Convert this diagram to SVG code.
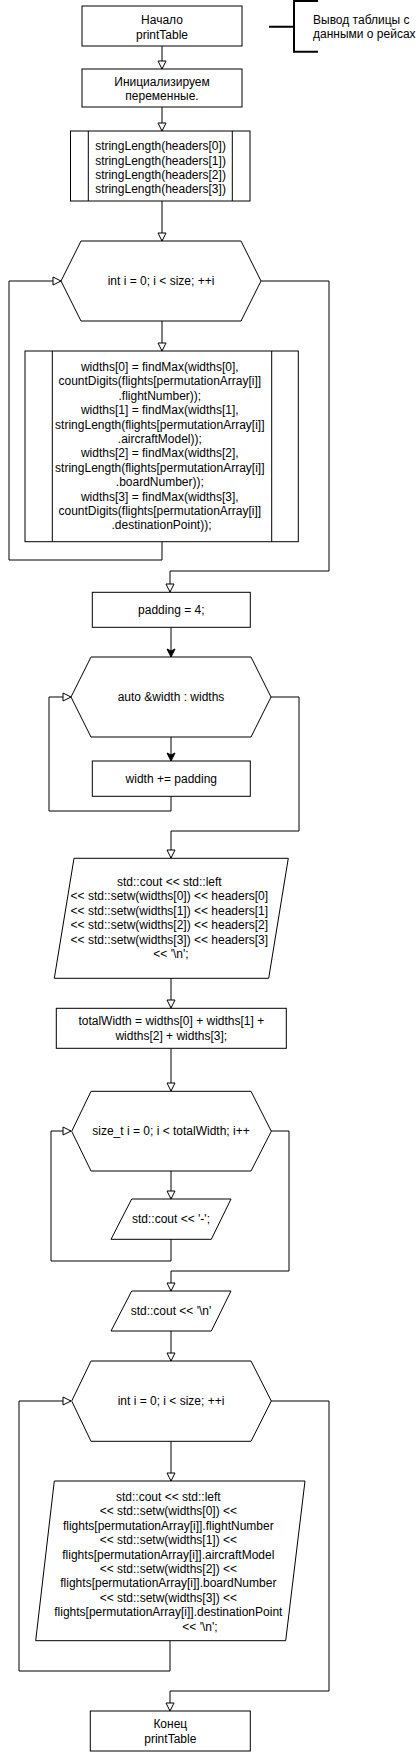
<svg xmlns="http://www.w3.org/2000/svg" width="420" height="1752" viewBox="0 0 420 1752">
<style>
.s{fill:#fff;stroke:#000;stroke-width:1}
.l{fill:none;stroke:#000;stroke-width:1}
.t{font-family:"Liberation Sans",Arial,sans-serif;font-size:12px;fill:#000;text-anchor:middle}
.a{font-family:"Liberation Sans",Arial,sans-serif;font-size:12px;fill:#000;text-anchor:start}
.c{fill:none;stroke:#000;stroke-width:1}
.o{marker-end:url(#open)}
.f{marker-end:url(#fill)}
</style>
<defs>
<marker id="open" markerUnits="userSpaceOnUse" markerWidth="12" markerHeight="12" viewBox="-1 -1 12 12" refX="8" refY="4" orient="auto"><path d="M0,0 L8,4 L0,8 Z" fill="#fff" stroke="#000" stroke-width="1"/></marker>
<marker id="fill" markerUnits="userSpaceOnUse" markerWidth="12" markerHeight="12" viewBox="-1 -1 12 12" refX="8" refY="4" orient="auto"><path d="M0,0 L8,4 L0,8 L2,4 Z" fill="#000" stroke="#000" stroke-width="1"/></marker>
</defs>
<g id="connectors">
<path class="c o" d="M162,46 V69"/>
<path class="c o" d="M162,107 V131"/>
<path class="c o" d="M162,201 V241"/>
<path class="c o" d="M162,321 V351"/>
<path class="c o" d="M162,542 V560 H9 V281 H61"/>
<path class="c o" d="M261,281 H329 V571 H170 V592"/>
<path class="c f" d="M171,627 V657"/>
<path class="c f" d="M171,737 V761"/>
<path class="c o" d="M171,796 V811 H49 V697 H71"/>
<path class="c o" d="M271,697 H299 V831 H171 V858"/>
<path class="c o" d="M171,978 V1008"/>
<path class="c o" d="M171,1048 V1091"/>
<path class="c o" d="M171,1171 V1199"/>
<path class="c o" d="M171,1239 V1261 H51 V1131 H71"/>
<path class="c o" d="M271,1131 H289 V1271 H171 V1291"/>
<path class="c o" d="M171,1331 V1361"/>
<path class="c o" d="M171,1441 V1481"/>
<path class="c o" d="M170,1641 V1671 H19 V1401 H71"/>
<path class="c o" d="M271,1401 H329 V1691 H170 V1711"/>
</g>
<g id="start">
<rect class="s" x="82" y="6" width="160" height="40"/>
<text class="t"><tspan x="162" y="24">Начало</tspan><tspan x="162" y="39">printTable</tspan></text>
</g>
<g id="note">
<path d="M269,26.7 H294 M318,1 H294 V51.7 H318" fill="none" stroke="#000" stroke-width="2"/>
<text class="a"><tspan x="313" y="23.5">Вывод таблицы с</tspan><tspan x="313" y="38">данными о рейсах</tspan></text>
</g>
<g id="init">
<rect class="s" x="82" y="69" width="160" height="38"/>
<text class="t"><tspan x="162" y="85.5">Инициализируем</tspan><tspan x="162" y="100">переменные.</tspan></text>
</g>
<g id="headersLen">
<rect class="s" x="70.5" y="131" width="179.5" height="70"/>
<path class="l" d="M88.3,131 V201 M232.3,131 V201"/>
<text class="t"><tspan x="160.5" y="150.3">stringLength(headers[0])</tspan><tspan x="160.5" y="164.6">stringLength(headers[1])</tspan><tspan x="160.5" y="178.9">stringLength(headers[2])</tspan><tspan x="160.5" y="193.2">stringLength(headers[3])</tspan></text>
</g>
<g id="loop1">
<polygon class="s" points="81,241 241,241 261,281 241,321 81,321 61,281"/>
<text class="t" x="161" y="285">int i = 0; i &lt; size; ++i</text>
</g>
<g id="widthsCalc">
<rect class="s" x="25" y="351" width="273.3" height="190.7"/>
<path class="l" d="M52.3,351 V541.7 M271.7,351 V541.7"/>
<text class="t">
<tspan x="161.5" y="371">widths[0] = findMax(widths[0],</tspan>
<tspan x="161.5" y="385.4">countDigits(flights[permutationArray[i]]</tspan>
<tspan x="161.5" y="399.8">.flightNumber));</tspan>
<tspan x="161.5" y="414.2">widths[1] = findMax(widths[1],</tspan>
<tspan x="161.5" y="428.6">stringLength(flights[permutationArray[i]]</tspan>
<tspan x="161.5" y="443">.aircraftModel));</tspan>
<tspan x="161.5" y="457.4">widths[2] = findMax(widths[2],</tspan>
<tspan x="161.5" y="471.8">stringLength(flights[permutationArray[i]]</tspan>
<tspan x="161.5" y="486.2">.boardNumber));</tspan>
<tspan x="161.5" y="500.6">widths[3] = findMax(widths[3],</tspan>
<tspan x="161.5" y="515">countDigits(flights[permutationArray[i]]</tspan>
<tspan x="161.5" y="529.4">.destinationPoint));</tspan>
</text>
</g>
<g id="padding">
<rect class="s" x="92.3" y="592.3" width="158" height="35"/>
<text class="t" x="171.3" y="614">padding = 4;</text>
</g>
<g id="loop2">
<polygon class="s" points="91,657 251,657 271,697 251,737 91,737 71,697"/>
<text class="t" x="171" y="701">auto &amp;width : widths</text>
</g>
<g id="addPadding">
<rect class="s" x="92.3" y="761" width="158" height="35.3"/>
<text class="t" x="171.3" y="783">width += padding</text>
</g>
<g id="printHeaders">
<polygon class="s" points="74,858.3 288.3,858.3 268.7,978.3 54.3,978.3"/>
<text class="t">
<tspan x="171" y="886">std::cout &lt;&lt; std::left</tspan>
<tspan x="171" y="900.4">&lt;&lt; std::setw(widths[0]) &lt;&lt; headers[0]</tspan>
<tspan x="171" y="914.8">&lt;&lt; std::setw(widths[1]) &lt;&lt; headers[1]</tspan>
<tspan x="171" y="929.2">&lt;&lt; std::setw(widths[2]) &lt;&lt; headers[2]</tspan>
<tspan x="171" y="943.6">&lt;&lt; std::setw(widths[3]) &lt;&lt; headers[3]</tspan>
<tspan x="171" y="958">&lt;&lt; '\n';</tspan>
</text>
</g>
<g id="totalWidth">
<rect class="s" x="56.3" y="1008.3" width="230" height="40"/>
<text class="t"><tspan x="171.3" y="1025">totalWidth = widths[0] + widths[1] +</tspan><tspan x="171.3" y="1039.8">widths[2] + widths[3];</tspan></text>
</g>
<g id="loop3">
<polygon class="s" points="91,1091.3 251,1091.3 271.3,1131.3 251,1171 91,1171 71.7,1131.3"/>
<text class="t" x="171" y="1135.3">size_t i = 0; i &lt; totalWidth; i++</text>
</g>
<g id="printDash">
<polygon class="s" points="131.7,1199 231,1199 211.3,1239.3 111,1239.3"/>
<text class="t" x="171" y="1222.5">std::cout &lt;&lt; '-';</text>
</g>
<g id="printNewline">
<polygon class="s" points="131.7,1291 231,1291 211.3,1331 111,1331"/>
<text class="t" x="171" y="1314.5">std::cout &lt;&lt; '\n'</text>
</g>
<g id="loop4">
<polygon class="s" points="91,1361 251,1361 271.3,1401 251,1441.3 91,1441.3 71.7,1401"/>
<text class="t" x="171" y="1405">int i = 0; i &lt; size; ++i</text>
</g>
<g id="printRows">
<polygon class="s" points="54.3,1481 305,1481 285.7,1640.7 35.7,1640.7"/>
<text class="t">
<tspan x="170" y="1501">std::cout &lt;&lt; std::left</tspan>
<tspan x="170" y="1515.4">&lt;&lt; std::setw(widths[0]) &lt;&lt;</tspan>
<tspan x="170" y="1529.8">flights[permutationArray[i]].flightNumber</tspan>
<tspan x="170" y="1544.2">&lt;&lt; std::setw(widths[1]) &lt;&lt;</tspan>
<tspan x="170" y="1558.6">flights[permutationArray[i]].aircraftModel</tspan>
<tspan x="170" y="1573">&lt;&lt; std::setw(widths[2]) &lt;&lt;</tspan>
<tspan x="170" y="1587.4">flights[permutationArray[i]].boardNumber</tspan>
<tspan x="170" y="1601.8">&lt;&lt; std::setw(widths[3]) &lt;&lt;</tspan>
<tspan x="170" y="1616.2">flights[permutationArray[i]].destinationPoint</tspan>
<tspan x="200" y="1630.6">&lt;&lt; '\n';</tspan>
</text>
</g>
<g id="end">
<rect class="s" x="90.3" y="1711" width="160" height="40"/>
<text class="t"><tspan x="170.3" y="1728">Конец</tspan><tspan x="170.3" y="1743">printTable</tspan></text>
</g>
</svg>
